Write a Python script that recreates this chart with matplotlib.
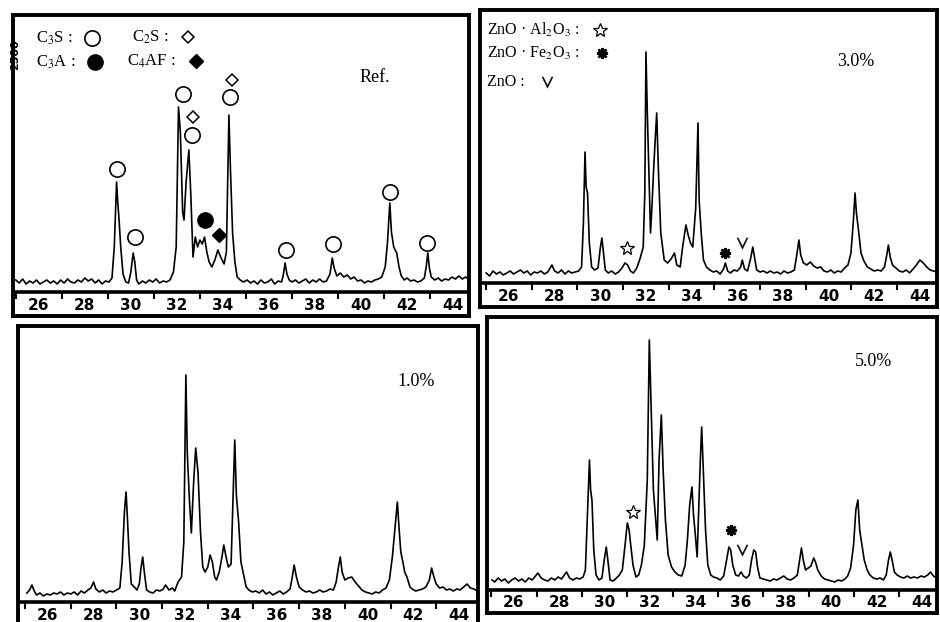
import matplotlib.pyplot as plt
from matplotlib.lines import Line2D

plt.rcParams['font.family'] = ['Liberation Serif', 'DejaVu Serif']
plt.rcParams['mathtext.fontset'] = 'stix'

# traced XRD patterns: (2theta, intensity a.u.)
ref_trace = [
    (25.0, 12), (25.15, 9), (25.3, 13), (25.45, 8), (25.6, 11), (25.75, 9), (25.9, 12), (26.05, 8),
    (26.2, 10), (26.35, 12), (26.5, 9), (26.65, 11), (26.8, 8), (26.95, 12), (27.1, 9), (27.25, 13),
    (27.4, 10), (27.55, 9), (27.7, 12), (27.85, 10), (28.0, 14), (28.15, 11), (28.3, 13), (28.45, 9),
    (28.6, 12), (28.75, 8), (28.9, 11), (29.05, 10), (29.18, 14), (29.28, 45), (29.38, 110), (29.43, 90),
    (29.48, 75), (29.56, 45), (29.66, 18), (29.78, 10), (29.9, 9), (30.0, 20), (30.1, 39), (30.17, 30),
    (30.25, 12), (30.35, 8), (30.5, 11), (30.65, 9), (30.8, 12), (30.95, 10), (31.1, 13), (31.25, 9),
    (31.4, 11), (31.55, 10), (31.7, 12), (31.85, 20), (31.97, 45), (32.07, 185), (32.15, 160), (32.25, 80),
    (32.31, 72), (32.4, 110), (32.52, 142), (32.6, 100), (32.7, 35), (32.8, 55), (32.9, 45), (33.0, 52),
    (33.1, 48), (33.2, 55), (33.3, 40), (33.4, 30), (33.52, 25), (33.65, 32), (33.78, 42), (33.9, 35),
    (34.05, 28), (34.15, 40), (34.26, 177), (34.33, 120), (34.42, 59), (34.52, 30), (34.62, 15), (34.75, 12),
    (34.9, 10), (35.05, 12), (35.2, 9), (35.35, 11), (35.5, 8), (35.65, 12), (35.8, 9), (35.95, 10),
    (36.1, 13), (36.25, 8), (36.4, 11), (36.55, 10), (36.63, 18), (36.7, 29), (36.78, 18), (36.88, 12),
    (37.0, 10), (37.15, 12), (37.3, 9), (37.45, 11), (37.6, 13), (37.75, 9), (37.9, 12), (38.05, 10),
    (38.2, 13), (38.35, 10), (38.5, 11), (38.65, 18), (38.75, 34), (38.83, 24), (38.95, 16), (39.1, 19),
    (39.25, 15), (39.4, 17), (39.55, 13), (39.7, 15), (39.85, 11), (40.0, 12), (40.15, 9), (40.3, 11),
    (40.45, 10), (40.6, 12), (40.75, 13), (40.9, 15), (41.05, 25), (41.15, 50), (41.25, 89), (41.32, 60),
    (41.42, 45), (41.55, 39), (41.65, 25), (41.75, 16), (41.88, 12), (42.0, 14), (42.15, 11), (42.3, 12),
    (42.45, 10), (42.6, 11), (42.75, 14), (42.83, 25), (42.9, 39), (42.97, 24), (43.05, 15), (43.2, 12),
    (43.35, 14), (43.5, 11), (43.65, 13), (43.8, 12), (43.95, 15), (44.1, 13), (44.25, 16), (44.4, 13),
    (44.55, 15), (44.7, 12),
]

zn3_trace = [
    (25.0, 10), (25.15, 7), (25.3, 12), (25.45, 9), (25.6, 11), (25.75, 8), (25.9, 10), (26.05, 12),
    (26.2, 9), (26.35, 11), (26.5, 13), (26.65, 10), (26.8, 12), (26.95, 8), (27.1, 11), (27.25, 10),
    (27.4, 12), (27.55, 9), (27.7, 11), (27.88, 18), (28.0, 12), (28.15, 10), (28.3, 13), (28.45, 9),
    (28.6, 12), (28.75, 10), (28.9, 11), (29.05, 12), (29.18, 16), (29.26, 60), (29.33, 131), (29.38, 96),
    (29.44, 90), (29.52, 40), (29.62, 16), (29.75, 13), (29.9, 15), (30.0, 35), (30.07, 45), (30.14, 30),
    (30.22, 13), (30.35, 10), (30.5, 12), (30.65, 9), (30.8, 11), (30.95, 15), (31.08, 20), (31.2, 18),
    (31.32, 12), (31.45, 10), (31.6, 15), (31.75, 25), (31.88, 36), (31.95, 90), (32.0, 231), (32.06, 170),
    (32.14, 100), (32.2, 50), (32.27, 80), (32.35, 120), (32.47, 170), (32.55, 110), (32.65, 50), (32.8, 23),
    (32.95, 20), (33.1, 24), (33.25, 30), (33.35, 18), (33.5, 16), (33.6, 35), (33.75, 58), (33.85, 48),
    (33.95, 40), (34.05, 36), (34.18, 75), (34.28, 160), (34.33, 83), (34.42, 50), (34.52, 23), (34.65, 16),
    (34.8, 13), (34.95, 11), (35.1, 12), (35.25, 9), (35.4, 14), (35.48, 20), (35.58, 12), (35.7, 10),
    (35.85, 13), (36.0, 12), (36.15, 16), (36.22, 23), (36.32, 14), (36.45, 12), (36.58, 24), (36.68, 36),
    (36.76, 25), (36.85, 13), (37.0, 11), (37.15, 12), (37.3, 10), (37.45, 12), (37.6, 10), (37.75, 11),
    (37.9, 9), (38.05, 12), (38.2, 10), (38.35, 11), (38.5, 13), (38.62, 30), (38.7, 43), (38.78, 28),
    (38.9, 20), (39.05, 18), (39.2, 21), (39.35, 17), (39.5, 15), (39.65, 16), (39.8, 12), (39.95, 11),
    (40.1, 13), (40.25, 10), (40.4, 12), (40.55, 11), (40.7, 15), (40.85, 18), (40.98, 30), (41.08, 60),
    (41.16, 90), (41.22, 70), (41.3, 55), (41.42, 30), (41.55, 22), (41.7, 16), (41.85, 14), (42.0, 12),
    (42.15, 13), (42.3, 12), (42.45, 16), (42.55, 28), (42.62, 38), (42.7, 26), (42.8, 18), (42.95, 15),
    (43.1, 12), (43.25, 11), (43.4, 13), (43.55, 10), (43.7, 14), (43.85, 18), (44.0, 23), (44.15, 20),
    (44.3, 16), (44.45, 13), (44.6, 12), (44.75, 11),
]

zn1_trace = [
    (25.08, 9), (25.2, 12), (25.3, 17), (25.4, 11), (25.5, 7), (25.65, 9), (25.8, 6), (25.95, 8),
    (26.1, 7), (26.25, 9), (26.4, 8), (26.55, 10), (26.7, 7), (26.85, 9), (27.0, 8), (27.15, 10),
    (27.3, 7), (27.45, 11), (27.6, 9), (27.75, 12), (27.88, 14), (28.0, 20), (28.1, 13), (28.25, 10),
    (28.4, 12), (28.55, 9), (28.7, 11), (28.85, 10), (29.0, 12), (29.15, 14), (29.25, 40), (29.35, 90),
    (29.42, 110), (29.47, 89), (29.55, 50), (29.65, 18), (29.78, 15), (29.9, 12), (30.0, 18), (30.08, 35),
    (30.15, 45), (30.22, 30), (30.32, 12), (30.45, 10), (30.6, 9), (30.75, 12), (30.9, 11), (31.05, 13),
    (31.15, 17), (31.3, 12), (31.45, 14), (31.55, 11), (31.7, 20), (31.85, 25), (31.95, 60), (32.04, 227),
    (32.1, 150), (32.2, 100), (32.28, 69), (32.38, 120), (32.47, 154), (32.57, 130), (32.68, 70), (32.78, 35),
    (32.88, 30), (33.0, 35), (33.1, 47), (33.2, 40), (33.3, 25), (33.38, 22), (33.5, 30), (33.62, 45),
    (33.7, 57), (33.8, 45), (33.9, 35), (34.02, 38), (34.1, 100), (34.18, 162), (34.25, 107), (34.35, 80),
    (34.45, 40), (34.55, 29), (34.68, 15), (34.8, 12), (34.95, 10), (35.1, 11), (35.25, 9), (35.4, 12),
    (35.55, 8), (35.7, 10), (35.85, 7), (36.0, 9), (36.15, 11), (36.3, 8), (36.45, 10), (36.6, 13),
    (36.7, 25), (36.78, 37), (36.88, 25), (37.0, 15), (37.15, 12), (37.3, 10), (37.45, 11), (37.6, 9),
    (37.75, 10), (37.9, 12), (38.05, 10), (38.2, 11), (38.35, 13), (38.5, 12), (38.62, 20), (38.72, 35),
    (38.8, 45), (38.88, 30), (39.0, 22), (39.15, 24), (39.3, 25), (39.45, 20), (39.6, 16), (39.75, 12),
    (39.9, 10), (40.05, 9), (40.2, 8), (40.35, 10), (40.5, 9), (40.65, 12), (40.8, 14), (40.95, 22),
    (41.08, 45), (41.2, 75), (41.3, 100), (41.37, 75), (41.45, 50), (41.55, 39), (41.62, 30), (41.72, 25),
    (41.85, 15), (41.95, 13), (42.1, 11), (42.25, 12), (42.4, 13), (42.55, 15), (42.7, 22), (42.8, 34),
    (42.9, 25), (43.0, 18), (43.15, 14), (43.3, 15), (43.45, 12), (43.6, 13), (43.75, 11), (43.9, 13),
    (44.05, 12), (44.2, 15), (44.35, 18), (44.5, 14), (44.65, 13), (44.8, 11),
]

zn5_trace = [
    (25.03, 10), (25.15, 8), (25.3, 12), (25.45, 9), (25.6, 11), (25.75, 7), (25.9, 10), (26.05, 12),
    (26.2, 9), (26.35, 11), (26.5, 8), (26.65, 12), (26.8, 10), (26.95, 14), (27.05, 17), (27.2, 12),
    (27.35, 10), (27.5, 9), (27.65, 12), (27.8, 10), (27.95, 13), (28.1, 11), (28.22, 15), (28.32, 18),
    (28.45, 12), (28.6, 10), (28.75, 12), (28.9, 11), (29.05, 13), (29.15, 20), (29.25, 80), (29.33, 130),
    (29.38, 100), (29.44, 90), (29.52, 40), (29.62, 15), (29.75, 10), (29.88, 12), (29.98, 30), (30.07, 43),
    (30.14, 30), (30.24, 10), (30.38, 9), (30.52, 12), (30.65, 15), (30.78, 20), (30.9, 45), (31.0, 67),
    (31.08, 60), (31.15, 45), (31.25, 25), (31.38, 13), (31.5, 15), (31.62, 25), (31.75, 45), (31.88, 110),
    (31.97, 250), (32.03, 200), (32.08, 157), (32.15, 100), (32.25, 70), (32.32, 50), (32.4, 130), (32.5, 175),
    (32.58, 120), (32.68, 70), (32.8, 35), (32.95, 23), (33.1, 18), (33.25, 15), (33.4, 14), (33.55, 25),
    (33.65, 50), (33.75, 85), (33.85, 103), (33.92, 75), (34.0, 55), (34.08, 33), (34.15, 80), (34.22, 130),
    (34.28, 163), (34.35, 120), (34.45, 60), (34.55, 25), (34.68, 15), (34.8, 13), (34.95, 12), (35.1, 10),
    (35.25, 14), (35.38, 30), (35.48, 43), (35.56, 40), (35.65, 25), (35.78, 15), (35.9, 14), (36.02, 18),
    (36.12, 14), (36.25, 12), (36.38, 15), (36.48, 30), (36.58, 40), (36.66, 38), (36.75, 22), (36.85, 12),
    (37.0, 11), (37.15, 10), (37.3, 9), (37.45, 11), (37.6, 10), (37.75, 12), (37.9, 14), (38.05, 11),
    (38.2, 10), (38.35, 12), (38.5, 15), (38.6, 30), (38.68, 42), (38.76, 30), (38.86, 20), (38.98, 22),
    (39.1, 24), (39.22, 32), (39.3, 28), (39.4, 20), (39.55, 14), (39.7, 11), (39.85, 10), (40.0, 9),
    (40.15, 8), (40.3, 10), (40.45, 9), (40.6, 11), (40.72, 14), (40.85, 22), (40.98, 45), (41.08, 80),
    (41.17, 90), (41.25, 60), (41.35, 45), (41.45, 30), (41.58, 20), (41.7, 15), (41.85, 12), (42.0, 11),
    (42.15, 12), (42.3, 10), (42.42, 15), (42.52, 30), (42.6, 38), (42.68, 30), (42.78, 18), (42.9, 15),
    (43.05, 13), (43.2, 12), (43.35, 14), (43.5, 12), (43.65, 13), (43.8, 12), (43.95, 14), (44.1, 13),
    (44.25, 15), (44.38, 18), (44.5, 14), (44.65, 12),
]

# phase marks (2theta, height)
ref_c3s = [(29.40, 123), (30.18, 55), (32.27, 198), (32.66, 157), (34.31, 195),
           (36.74, 42), (38.78, 48), (41.26, 100), (42.87, 49)]
ref_c2s = [(32.71, 175), (34.40, 212)]
ref_c3a = [(33.23, 72)]
ref_c4af = [(33.84, 57)]
zn3_znal = [(31.17, 35)]
zn3_znfe = [(35.46, 30)]
zn3_zno = [(36.20, 40)]
zn5_znal = [(31.25, 78)]
zn5_znfe = [(35.57, 60)]
zn5_zno = [(36.05, 40)]

W, H = 940, 622


def fx(x):
    return x / W


def fy(y):
    return 1 - y / H


fig = plt.figure(figsize=(W / 100, H / 100), dpi=100)


def panel(l, t, r, b, bar_top, xlim, trace, label=None, label_xy=None):
    ax = fig.add_axes([fx(l), fy(b), (r - l) / W, (b - t) / H])
    bar = b - bar_top
    ax.set_xlim(*xlim)
    ax.set_ylim(-bar, bar_top - t)
    xs, ys = zip(*trace)
    ax.plot(xs, ys, color='k', lw=1.2)
    ax.axhline(0, color='k', lw=2.6)
    for v in range(25, 46, 2):
        ax.plot([v, v], [0, -6], color='k', lw=1.5)
    for v in range(26, 45, 2):
        ax.text(v, -bar / 2 - 1, str(v), ha='center', va='center', fontsize=11,
                fontweight='bold', family='DejaVu Sans')
    ax.set_xticks([])
    ax.set_yticks([])
    for s in ax.spines.values():
        s.set_linewidth(2.8)
    if label:
        fig.text(fx(label_xy[0]), fy(label_xy[1]), label, fontsize=13,
                 ha='left', va='center')
    return ax


def marks(ax, pts, **kw):
    xs, ys = zip(*pts)
    ax.plot(xs, ys, ls='none', color='k', clip_on=False, **kw)


def legend_mark(x, y, **kw):
    fig.add_artist(Line2D([fx(x)], [fy(y)], ls='none', color='k', **kw))


open_circle = dict(marker='o', ms=11, mfc='white', mec='k', mew=1.2)
open_diamond = dict(marker='D', ms=6.5, mfc='white', mec='k', mew=1.1)
full_circle = dict(marker='o', ms=11, mfc='k', mec='k')
full_diamond = dict(marker='D', ms=7.5, mfc='k', mec='k')
star = dict(marker='*', ms=10, mfc='white', mec='k', mew=0.9)
aster = dict(marker=(8, 2, 0), ms=8, mec='k', mew=1.8)
vee = dict(marker=r'$\vee$', ms=8, mec='k', mfc='k', mew=0.3)

# Ref.
ax1 = panel(13, 15, 469, 316, 292, (24.88, 44.69), ref_trace, 'Ref.', (360, 78))
marks(ax1, ref_c3s, **open_circle)
marks(ax1, ref_c2s, **open_diamond)
marks(ax1, ref_c3a, **full_circle)
marks(ax1, ref_c4af, **full_diamond)
fig.text(fx(36), fy(38), 'C$_3$S :', fontsize=12, va='center')
legend_mark(92, 38, **open_circle)
fig.text(fx(132), fy(37), 'C$_2$S :', fontsize=12, va='center')
legend_mark(188, 37, **open_diamond)
fig.text(fx(36), fy(62), 'C$_3$A :', fontsize=12, va='center')
legend_mark(95, 62, **full_circle)
fig.text(fx(127), fy(61), 'C$_4$AF :', fontsize=12, va='center')
legend_mark(196, 61, **full_diamond)
fig.text(fx(15), fy(55), '2500', rotation=90, fontsize=8, fontweight='bold',
         family='DejaVu Sans', ha='center', va='center')

# 3.0%
ax2 = panel(480, 10, 937, 307, 283, (24.73, 44.75), zn3_trace, '3.0%', (837, 62))
marks(ax2, zn3_znal, **star)
marks(ax2, zn3_znfe, **aster)
marks(ax2, zn3_zno, **vee)
fig.text(fx(487), fy(30), 'ZnO · Al$_2$O$_3$ :', fontsize=11.5, va='center')
legend_mark(600, 30, **star)
fig.text(fx(487), fy(53), 'ZnO · Fe$_2$O$_3$ :', fontsize=11.5, va='center')
legend_mark(602, 53, **aster)
fig.text(fx(487), fy(82), 'ZnO :', fontsize=11.5, va='center')
legend_mark(547, 82, **vee)

# 1.0%
ax3 = panel(18, 326, 478, 626, 602, (24.69, 44.83), zn1_trace, '1.0%', (397, 382))

# 5.0%
ax4 = panel(487, 317, 937, 613, 590, (24.81, 44.66), zn5_trace, '5.0%', (855, 362))
marks(ax4, zn5_znal, **star)
marks(ax4, zn5_znfe, **aster)
marks(ax4, zn5_zno, **vee)

fig.savefig('out.png', dpi=100)
